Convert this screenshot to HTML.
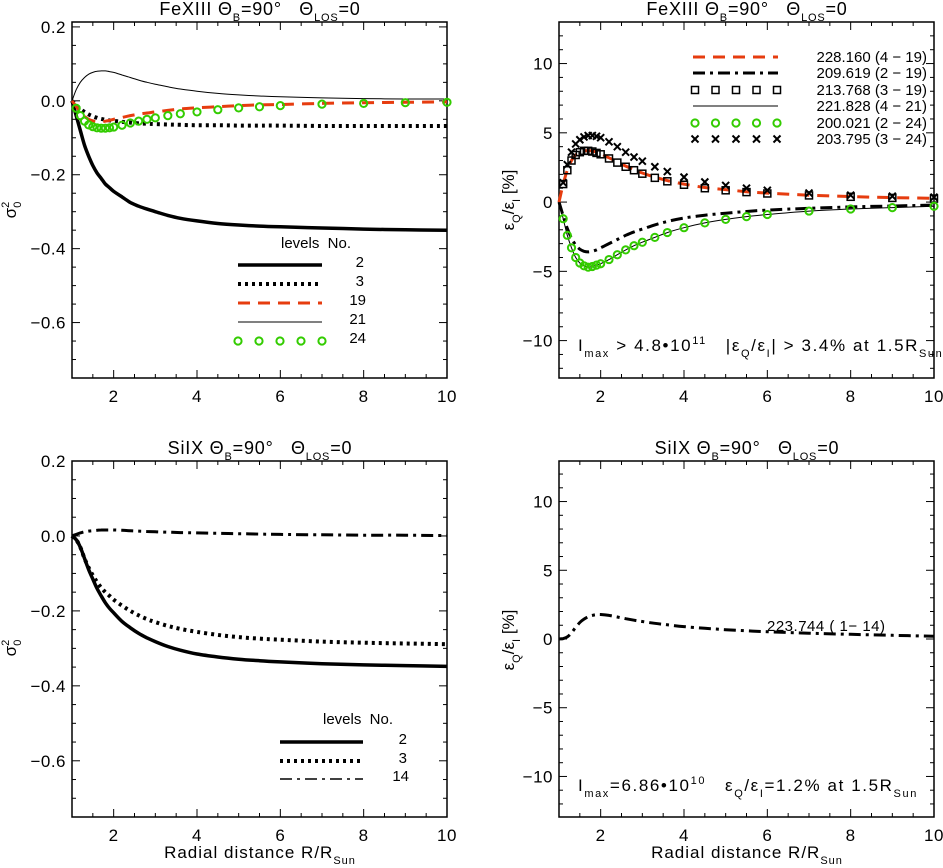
<!DOCTYPE html>
<html>
<head>
<meta charset="utf-8">
<style>
html,body{margin:0;padding:0;background:#fff;}
svg{display:block;}
text{font-family:"Liberation Sans",sans-serif;fill:#000;white-space:pre;}
</style>
</head>
<body>
<svg id="fig" width="943" height="868" viewBox="0 0 943 868" xmlns="http://www.w3.org/2000/svg"></svg>
<script>
// ---- data ----
const xs = [1,1.1,1.2,1.3,1.4,1.5,1.6,1.7,1.8,1.9,2.0,2.2,2.4,2.6,2.8,3.0,3.3,3.6,4.0,4.5,5.0,5.5,6.0,7.0,8.0,9.0,10.0];
const feLev2  = [0,-0.04,-0.08,-0.12,-0.15,-0.175,-0.195,-0.21,-0.225,-0.235,-0.245,-0.26,-0.275,-0.285,-0.293,-0.3,-0.31,-0.318,-0.325,-0.332,-0.336,-0.339,-0.341,-0.344,-0.347,-0.349,-0.35];
const feLev3  = [0,-0.012,-0.022,-0.03,-0.037,-0.042,-0.046,-0.049,-0.051,-0.053,-0.054,-0.057,-0.059,-0.061,-0.062,-0.063,-0.064,-0.065,-0.066,-0.066,-0.067,-0.067,-0.067,-0.068,-0.068,-0.068,-0.068];
const feLev19 = [0,-0.015,-0.03,-0.042,-0.05,-0.054,-0.056,-0.056,-0.055,-0.053,-0.05,-0.045,-0.04,-0.036,-0.033,-0.03,-0.026,-0.022,-0.019,-0.016,-0.013,-0.011,-0.01,-0.007,-0.005,-0.004,-0.003];
const feLev21 = [0,0.03,0.05,0.063,0.072,0.077,0.08,0.081,0.081,0.079,0.077,0.07,0.063,0.056,0.05,0.045,0.038,0.032,0.026,0.02,0.016,0.013,0.011,0.008,0.006,0.005,0.005];
const feLev24 = [0,-0.02,-0.04,-0.055,-0.065,-0.07,-0.073,-0.074,-0.074,-0.073,-0.071,-0.066,-0.06,-0.055,-0.05,-0.046,-0.04,-0.035,-0.03,-0.024,-0.019,-0.016,-0.013,-0.009,-0.007,-0.005,-0.004];

const fe228 = [0,1.3,2.3,3.0,3.4,3.6,3.7,3.7,3.7,3.6,3.5,3.2,2.9,2.6,2.35,2.1,1.8,1.55,1.3,1.05,0.9,0.75,0.65,0.5,0.4,0.32,0.27];
const fe209 = [0,-1.0,-1.9,-2.6,-3.1,-3.4,-3.55,-3.6,-3.55,-3.45,-3.3,-3.0,-2.7,-2.4,-2.15,-1.95,-1.65,-1.4,-1.15,-0.95,-0.8,-0.68,-0.58,-0.45,-0.35,-0.28,-0.22];
const fe213 = [0,1.3,2.3,3.0,3.4,3.6,3.7,3.7,3.65,3.55,3.45,3.15,2.85,2.55,2.3,2.05,1.75,1.5,1.25,1.0,0.85,0.72,0.62,0.48,0.38,0.3,0.25];
const fe221 = [0,-1.2,-2.4,-3.3,-4.0,-4.4,-4.6,-4.7,-4.65,-4.55,-4.45,-4.15,-3.8,-3.45,-3.15,-2.9,-2.55,-2.2,-1.85,-1.5,-1.25,-1.05,-0.9,-0.65,-0.5,-0.4,-0.3];
const fe200 = [0,-1.2,-2.4,-3.3,-4.0,-4.4,-4.6,-4.7,-4.65,-4.55,-4.45,-4.15,-3.8,-3.45,-3.15,-2.9,-2.55,-2.2,-1.85,-1.5,-1.25,-1.05,-0.9,-0.65,-0.5,-0.4,-0.3];
const fe203 = [0,1.4,2.7,3.6,4.2,4.5,4.7,4.8,4.8,4.75,4.65,4.35,4.0,3.6,3.25,2.95,2.55,2.2,1.8,1.45,1.2,1.0,0.85,0.65,0.5,0.42,0.35];

const siLev2  = [0,-0.01,-0.03,-0.06,-0.09,-0.115,-0.14,-0.16,-0.178,-0.193,-0.205,-0.228,-0.245,-0.26,-0.272,-0.282,-0.295,-0.305,-0.315,-0.323,-0.329,-0.333,-0.336,-0.341,-0.344,-0.346,-0.348];
const siLev3  = [0,-0.01,-0.03,-0.06,-0.085,-0.105,-0.123,-0.138,-0.15,-0.16,-0.17,-0.186,-0.2,-0.212,-0.222,-0.23,-0.24,-0.248,-0.256,-0.264,-0.27,-0.274,-0.277,-0.282,-0.285,-0.287,-0.289];
const siLev14 = [0,0.004,0.008,0.011,0.013,0.014,0.015,0.016,0.016,0.016,0.016,0.015,0.014,0.013,0.012,0.011,0.01,0.009,0.008,0.007,0.006,0.005,0.004,0.003,0.002,0.002,0.001];
const si223   = [0,0.03,0.15,0.45,0.85,1.2,1.45,1.62,1.72,1.77,1.78,1.72,1.6,1.48,1.37,1.27,1.14,1.03,0.9,0.78,0.68,0.6,0.53,0.42,0.34,0.27,0.2];

const xTicks = [2,4,6,8,10];
const sigmaTicks = [0.2,0.0,-0.2,-0.4,-0.6];
const sigmaLabels = ["0.2","0.0","\u22120.2","\u22120.4","\u22120.6"];
const pctTicks = [10,5,0,-5,-10];
const pctLabels = ["10","5","0","\u22125","\u221210"];

// ---- helpers ----
const NS = "http://www.w3.org/2000/svg";
const svg = document.getElementById('fig');
function mk(tag, attrs, parent, name) {
  const el = document.createElementNS(NS, tag);
  for (const k in attrs) el.setAttribute(k, attrs[k]);
  
  
  (parent || svg).appendChild(el);
  return el;
}
function panel(p) {
  p.sx = v => p.x0 + (v - 1) / 9 * (p.x1 - p.x0);
  p.sy = v => p.y0 + (p.ymax - v) / (p.ymax - p.ymin) * (p.y1 - p.y0);
  const g = mk('g', {}, svg, p.name);
  p.g = g;
  mk('rect', {x:p.x0, y:p.y0, width:p.x1-p.x0, height:p.y1-p.y0, fill:'none', stroke:'#000', 'stroke-width':1.5}, g, 'plot-frame');
  for (let v = 1.5; v < 10; v += 0.5) {
    const major = Math.abs(v - Math.round(v/2)*2) < 1e-6;
    const L = major ? 8 : 4, X = p.sx(v);
    mk('line', {x1:X, y1:p.y1, x2:X, y2:p.y1-L, stroke:'#000', 'stroke-width':1}, g, 'x-tick');
    mk('line', {x1:X, y1:p.y0, x2:X, y2:p.y0+L, stroke:'#000', 'stroke-width':1}, g, 'x-tick');
  }
  xTicks.forEach(v => {
    const t = mk('text', {x:p.sx(v), y:p.y1+24, 'text-anchor':'middle', 'font-size':17, 'letter-spacing':0.5}, g, 'x-tick-label');
    t.textContent = v;
  });
  const n = Math.round((p.ymax - p.ymin) / p.minor) + 2;
  const start = Math.ceil(p.ymin / p.minor) * p.minor;
  for (let i = 0; i < n; i++) {
    const v = start + i * p.minor;
    if (v >= p.ymax) break;
    const major = Math.abs(v/p.major - Math.round(v/p.major)) < 1e-6;
    const L = major ? 8 : 4, Y = p.sy(v);
    mk('line', {x1:p.x0, y1:Y, x2:p.x0+L, y2:Y, stroke:'#000', 'stroke-width':1}, g, 'y-tick');
    mk('line', {x1:p.x1, y1:Y, x2:p.x1-L, y2:Y, stroke:'#000', 'stroke-width':1}, g, 'y-tick');
  }
  p.yTicks.forEach((v, i) => {
    const t = mk('text', {x:p.x0-6, y:p.sy(v)+6, 'text-anchor':'end', 'font-size':17, 'letter-spacing':0.5}, g, 'y-tick-label');
    t.textContent = p.yLabels[i];
  });
  return p;
}
function smoothPath(p, ys) {
  const pts = xs.map((x, i) => [p.sx(x), p.sy(ys[i])]);
  let d = 'M' + pts[0][0].toFixed(1) + ',' + pts[0][1].toFixed(1);
  for (let i = 0; i < pts.length - 1; i++) {
    const p0 = pts[Math.max(i-1,0)], p1 = pts[i], p2 = pts[i+1], p3 = pts[Math.min(i+2,pts.length-1)];
    const c1 = [p1[0] + (p2[0]-p0[0])/6, p1[1] + (p2[1]-p0[1])/6];
    const c2 = [p2[0] - (p3[0]-p1[0])/6, p2[1] - (p3[1]-p1[1])/6];
    d += 'C' + c1.map(v=>v.toFixed(1)).join(',') + ' ' + c2.map(v=>v.toFixed(1)).join(',') + ' ' + p2.map(v=>v.toFixed(1)).join(',');
  }
  return d;
}
const STY = {
  thick:{stroke:'#000','stroke-width':3.5},
  dotted:{stroke:'#000','stroke-width':4,'stroke-dasharray':'3,4'},
  dashed:{stroke:'#e63c0f','stroke-width':3,'stroke-dasharray':'12,8'},
  thin:{stroke:'#000','stroke-width':1},
  dashdot:{stroke:'#000','stroke-width':3,'stroke-dasharray':'12,5,3,5'},
  dashdotThin:{stroke:'#000','stroke-width':1.5,'stroke-dasharray':'12,5,3,5'}
};
function line(p, ys, sty, name) {
  const a = Object.assign({d:smoothPath(p, ys), fill:'none'}, STY[sty]);
  mk('path', a, p.g, name);
}
function marker(g, type, X, Y, name) {
  if (type === 'circle') mk('circle', {cx:X, cy:Y, r:3.6, fill:'none', stroke:'#33cc00', 'stroke-width':2}, g, name);
  else if (type === 'square') mk('rect', {x:X-3.5, y:Y-3.5, width:7, height:7, fill:'none', stroke:'#000', 'stroke-width':1.5}, g, name);
  else if (type === 'cross') mk('path', {d:`M${X-3.5},${Y-3.5}L${X+3.5},${Y+3.5}M${X-3.5},${Y+3.5}L${X+3.5},${Y-3.5}`, stroke:'#000', 'stroke-width':2}, g, name);
}
function markers(p, ys, type, name) {
  xs.forEach((x, i) => { if (i > 0) marker(p.g, type, p.sx(x), p.sy(ys[i]), name); });
}
function txt(g, x, y, html, size, anchor, name, fill, ls) {
  const t = mk('text', {x:x, y:y, 'font-size':size, 'text-anchor':anchor||'start'}, g, name);
  if (fill) t.setAttribute('fill', fill);
  if (ls) t.setAttribute('letter-spacing', ls);
  t.innerHTML = html;
  return t;
}
function legLine(g, x0, x1, y, sty, name) {
  const a = Object.assign({x1:x0, y1:y, x2:x1, y2:y}, STY[sty]);
  mk('line', a, g, name);
}
function legMarks(g, x0, x1, y, type, name) {
  for (let i = 0; i < 5; i++) marker(g, type, x0 + i*(x1-x0)/4, y, name);
}
const sub = s => `<tspan baseline-shift="-6" font-size="11">${s}</tspan>`;
const sup = s => `<tspan baseline-shift="7" font-size="11">${s}</tspan>`;
const title = ion => `${ion} \u0398${sub('B')}=90\u00b0   \u0398${sub('LOS')}=0`;

// ---- panels ----
const tl = panel({name:'panel-fexiii-sigma', x0:72, x1:447, y0:22, y1:378, ymin:-0.75, ymax:0.2133, minor:0.05, major:0.2, yTicks:sigmaTicks, yLabels:sigmaLabels});
const tr = panel({name:'panel-fexiii-polarization', x0:559, x1:934, y0:22, y1:378, ymin:-12.7, ymax:13.0, minor:1, major:5, yTicks:pctTicks, yLabels:pctLabels});
const bl = panel({name:'panel-siix-sigma', x0:72, x1:447, y0:461, y1:817, ymin:-0.75, ymax:0.2, minor:0.05, major:0.2, yTicks:sigmaTicks, yLabels:sigmaLabels});
const br = panel({name:'panel-siix-polarization', x0:559, x1:934, y0:461, y1:817, ymin:-12.95, ymax:12.95, minor:1, major:5, yTicks:pctTicks, yLabels:pctLabels});

txt(svg, 260, 15, title('FeXIII'), 18, 'middle', 'title-fexiii-left', null, 0.8);
txt(svg, 747, 15, title('FeXIII'), 18, 'middle', 'title-fexiii-right', null, 0.8);
txt(svg, 260, 454, title('SiIX'), 18, 'middle', 'title-siix-left', null, 0.8);
txt(svg, 747, 454, title('SiIX'), 18, 'middle', 'title-siix-right', null, 0.8);

function ytitle(x, y, html, name) {
  const t = txt(svg, 0, 0, html, 17, 'middle', name);
  t.setAttribute('transform', `translate(${x},${y}) rotate(-90)`);
}
const sigHtml = `\u03c3<tspan dy="-7" font-size="11">2</tspan><tspan dx="-6" dy="12" font-size="11">0</tspan>`;
ytitle(16, 210, sigHtml, 'y-axis-title-sigma-top');
ytitle(16, 648, sigHtml, 'y-axis-title-sigma-bottom');
const epsHtml = `\u03b5${sub('Q')}/\u03b5${sub('I')} [%]`;
ytitle(514, 200, epsHtml, 'y-axis-title-eps-top');
ytitle(514, 640, epsHtml, 'y-axis-title-eps-bottom');
const xt = `Radial distance R/R${sub('Sun')}`;
txt(svg, 260, 858, xt, 17, 'middle', 'x-axis-title-left', null, 1);
txt(svg, 747, 858, xt, 17, 'middle', 'x-axis-title-right', null, 1);

// TL series
line(tl, feLev2, 'thick', 'line-level-2');
line(tl, feLev3, 'dotted', 'line-level-3');
line(tl, feLev21, 'thin', 'line-level-21');
line(tl, feLev19, 'dashed', 'line-level-19');
markers(tl, feLev24, 'circle', 'point-level-24');
const lgA = mk('g', {}, svg, 'legend-fexiii-levels');
txt(lgA, 316, 248, 'levels  No.', 15, 'middle', 'legend-title');
legLine(lgA, 238, 322, 265, 'thick', 'legend-line-2');
legLine(lgA, 238, 322, 284, 'dotted', 'legend-line-3');
legLine(lgA, 238, 322, 303, 'dashed', 'legend-line-19');
legLine(lgA, 238, 322, 322, 'thin', 'legend-line-21');
legMarks(lgA, 238, 322, 341, 'circle', 'legend-marker-24');
txt(lgA, 364, 267, '2', 15, 'end', 'legend-label-2');
txt(lgA, 364, 286, '3', 15, 'end', 'legend-label-3');
txt(lgA, 366, 305, '19', 15, 'end', 'legend-label-19', '#e63c0f');
txt(lgA, 366, 324, '21', 15, 'end', 'legend-label-21');
txt(lgA, 366, 343, '24', 15, 'end', 'legend-label-24', '#33cc00');

// TR series
line(tr, fe221, 'thin', 'line-221828');
line(tr, fe209, 'dashdot', 'line-209619');
line(tr, fe228, 'dashed', 'line-228160');
markers(tr, fe213, 'square', 'point-213768');
markers(tr, fe203, 'cross', 'point-203795');
markers(tr, fe200, 'circle', 'point-200021');
const lgB = mk('g', {}, svg, 'legend-fexiii-lines');
const rows = [57,73,90,106,123,139];
legLine(lgB, 693, 778, rows[0], 'dashed', 'legend-line-228160');
legLine(lgB, 693, 778, rows[1], 'dashdot', 'legend-line-209619');
legMarks(lgB, 695, 777, rows[2], 'square', 'legend-marker-213768');
legLine(lgB, 693, 778, rows[3], 'thin', 'legend-line-221828');
legMarks(lgB, 695, 777, rows[4], 'circle', 'legend-marker-200021');
legMarks(lgB, 695, 777, rows[5], 'cross', 'legend-marker-203795');
const labs = ['228.160 (4 \u2212 19)','209.619 (2 \u2212 19)','213.768 (3 \u2212 19)','221.828 (4 \u2212 21)','200.021 (2 \u2212 24)','203.795 (3 \u2212 24)'];
const cols = ['#e63c0f',null,null,null,'#33cc00',null];
labs.forEach((s,i) => txt(lgB, 927, rows[i]+5, s, 15, 'end', 'legend-label', cols[i]));
txt(svg, 578, 351, `I${sub('max')} &gt; 4.8\u202210${sup('11')}   |\u03b5${sub('Q')}/\u03b5${sub('I')}| &gt; 3.4% at 1.5R${sub('Sun')}`, 17, 'start', 'annotation-fexiii', null, 1.6);

// BL series
line(bl, siLev2, 'thick', 'line-si-level-2');
line(bl, siLev3, 'dotted', 'line-si-level-3');
line(bl, siLev14, 'dashdot', 'line-si-level-14');
const lgC = mk('g', {}, svg, 'legend-siix-levels');
txt(lgC, 358, 724, 'levels  No.', 15, 'middle', 'legend-title');
legLine(lgC, 280, 363, 742, 'thick', 'legend-line-2');
legLine(lgC, 280, 363, 761, 'dotted', 'legend-line-3');
legLine(lgC, 280, 363, 779, 'dashdotThin', 'legend-line-14');
txt(lgC, 407, 744, '2', 15, 'end', 'legend-label-2');
txt(lgC, 407, 763, '3', 15, 'end', 'legend-label-3');
txt(lgC, 409, 781, '14', 15, 'end', 'legend-label-14');

// BR series
line(br, si223, 'dashdot', 'line-223744');
txt(svg, 767, 631, '223.744 ( 1\u2212 14)', 15, 'start', 'label-223744', null, 0.5);
txt(svg, 578, 791, `I${sub('max')}=6.86\u202210${sup('10')}   \u03b5${sub('Q')}/\u03b5${sub('I')}=1.2% at 1.5R${sub('Sun')}`, 17, 'start', 'annotation-siix', null, 1.6);
</script>
</body>
</html>
